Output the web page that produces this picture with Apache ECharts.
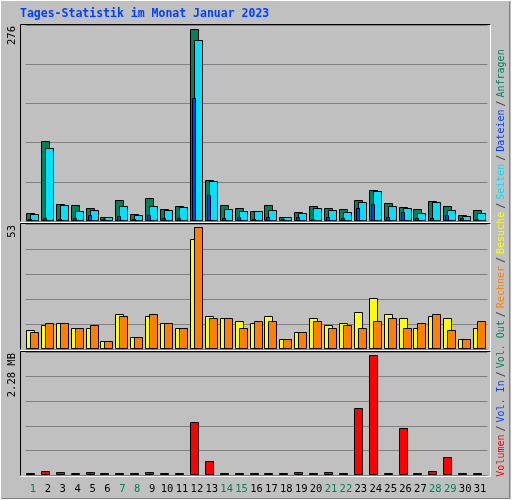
<!DOCTYPE html>
<html>
<head>
<meta charset="utf-8">
<script src="https://cdn.jsdelivr.net/npm/echarts@6/dist/echarts.min.js"></script>
<style>html,body{margin:0;padding:0;background:#c0c0c0;}#main{width:512px;height:500px;}</style>
</head>
<body>
<div id="main"></div>
<script>
var days = [];
for (var d = 1; d <= 31; d++) days.push(String(d));
var weekend = [1, 7, 8, 14, 15, 21, 22, 28, 29];

var anfragen = [10,114,23,22,17,4,29,9,32,16,20,276,58,22,17,13,22,4,12,20,17,16,29,43,25,19,16,27,20,7,14];
var seiten   = [9,104,22,13,14,4,20,7,20,14,19,260,56,16,13,13,14,4,10,17,14,12,26,42,20,17,10,26,14,6,10];
var dateien  = [0,3,0,3,7,0,6,0,7,3,3,176,36,3,4,0,4,0,4,0,4,3,17,23,4,12,3,3,7,3,0];
var besuche  = [8,10,11,9,9,3,15,5,14,11,9,48,14,13,12,11,14,4,7,13,10,11,16,22,15,13,9,14,13,4,9];
var rechner  = [7,11,11,9,10,3,14,5,15,11,9,53,13,13,9,12,12,4,7,12,9,10,9,12,13,9,11,15,8,4,12];
var volumen  = [0,0.06,0.04,0,0.04,0,0,0,0.04,0,0,1.0,0.25,0,0,0,0,0,0.04,0,0.04,0,1.26,2.28,0,0.88,0,0.06,0.33,0,0];

var myChart = echarts.init(document.getElementById('main'));
var mono = 'DejaVu Sans Mono';

function barSeries(values, idx, color, offL, offR) {
    return {
        type: 'custom',
        xAxisIndex: idx,
        yAxisIndex: idx,
        data: values.map(function (v, i) { return [i, v]; }),
        renderItem: function (params, api) {
            var top = api.coord([api.value(0), api.value(1)]);
            var base = api.coord([api.value(0), 0]);
            var cx = Math.round(base[0]);
            var y0 = Math.round(base[1]);
            var y1 = Math.round(top[1]);
            var h = Math.max(y0 - y1, 1);
            return {
                type: 'rect',
                shape: { x: cx + offL + 0.5, y: y0 - h - 0.5, width: offR - offL, height: h },
                style: { fill: color, stroke: '#000', lineWidth: 1 }
            };
        }
    };
}

var grids = [
    { top: 25, height: 196, max: 283.2 },
    { top: 224, height: 125, max: 54.9 },
    { top: 352, height: 123, max: 2.357 }
];

var xAxes = [], yAxes = [], gridOpts = [], graphics = [];
grids.forEach(function (g, i) {
    gridOpts.push({ left: 25.5, right: 24.5, top: g.top, height: g.height });
    xAxes.push({
        type: 'category', gridIndex: i, data: days,
        axisLine: { show: false }, axisTick: { show: false },
        axisLabel: i < 2 ? { show: false } : {
            margin: 9, fontFamily: mono, fontSize: 10.5, interval: 0,
            formatter: function (v) { return weekend.indexOf(+v) >= 0 ? '{w|' + v + '}' : '{d|' + v + '}'; },
            rich: { w: { color: '#00805c', fontFamily: mono, fontSize: 10.5 }, d: { color: '#000', fontFamily: mono, fontSize: 10.5 } }
        }
    });
    yAxes.push({
        type: 'value', gridIndex: i, min: 0, max: g.max, interval: g.max / 5,
        axisLabel: { show: false }, axisLine: { show: false }, axisTick: { show: false },
        splitLine: { lineStyle: { color: '#808080', width: 1 } }
    });
    // frame: dark top/left, white bottom/right
    var t = g.top - 0.5, b = g.top + g.height + 0.5;
    graphics.push({ type: 'polyline', shape: { points: [[20.5, b], [20.5, t], [490.5, t]] }, style: { stroke: '#000', fill: null, lineWidth: 1 } });
    graphics.push({ type: 'polyline', shape: { points: [[20.5, b + 1], [490.5, b + 1], [490.5, t]] }, style: { stroke: '#fff', fill: null, lineWidth: 1 } });
});

graphics.push({ type: 'rect', shape: { x: 0.5, y: 0.5, width: 511, height: 499 }, style: { stroke: '#fff', fill: null, lineWidth: 1 } });
graphics.push({ type: 'polyline', shape: { points: [[1.5, 498.5], [509.5, 498.5], [509.5, 1.5]] }, style: { stroke: '#808080', fill: null, lineWidth: 1 } });
graphics.push({ type: 'text', left: 20, top: 8, style: { text: 'Tages-Statistik im Monat Januar 2023', fill: '#0040ff', font: 'bold 11.5px "DejaVu Sans Mono"' } });

function yLabel(txt, y) {
    graphics.push({ type: 'text', x: 12, y: y, rotation: Math.PI / 2,
        style: { text: txt, fill: '#000', font: '10.5px "DejaVu Sans Mono"', align: 'right', verticalAlign: 'middle' } });
}
yLabel('276', 26);
yLabel('53', 225);
yLabel('2.28 MB', 353);

var lf = '10px "DejaVu Sans Mono"';
var sep = '{s|/}';
graphics.push({
    type: 'text', x: 501, y: 263, rotation: Math.PI / 2,
    style: {
        text: '{r|Volumen}' + sep + '{b|Vol. In}' + sep + '{g|Vol. Out}' + sep + '{o|Rechner}' + sep +
              '{y|Besuche}' + sep + '{c|Seiten}' + sep + '{b|Dateien}' + sep + '{g|Anfragen}',
        align: 'center', verticalAlign: 'middle',
        font: lf,
        rich: {
            r: { fill: '#ff0000', font: lf },
            b: { fill: '#0040ff', font: lf },
            g: { fill: '#00805c', font: lf },
            o: { fill: '#ff8000', font: lf },
            y: { fill: '#ffff00', font: lf },
            c: { fill: '#00e0ff', font: lf },
            s: { fill: '#404040', font: lf, padding: [0, 3] }
        }
    }
});

var option = {
    backgroundColor: '#c0c0c0',
    animation: false,
    grid: gridOpts,
    xAxis: xAxes,
    yAxis: yAxes,
    graphic: graphics,
    series: [
        barSeries(anfragen, 0, '#00805c', -7, 1),
        barSeries(seiten, 0, '#00e0ff', -3, 5),
        barSeries(dateien, 0, '#0040ff', -5, -2),
        barSeries(besuche, 1, '#ffff00', -7, 1),
        barSeries(rechner, 1, '#ff8000', -3, 5),
        barSeries(volumen, 2, '#ff0000', -7, 1)
    ]
};
myChart.setOption(option);
window.onresize = function () { myChart.resize(); };
</script>
</body>
</html>
